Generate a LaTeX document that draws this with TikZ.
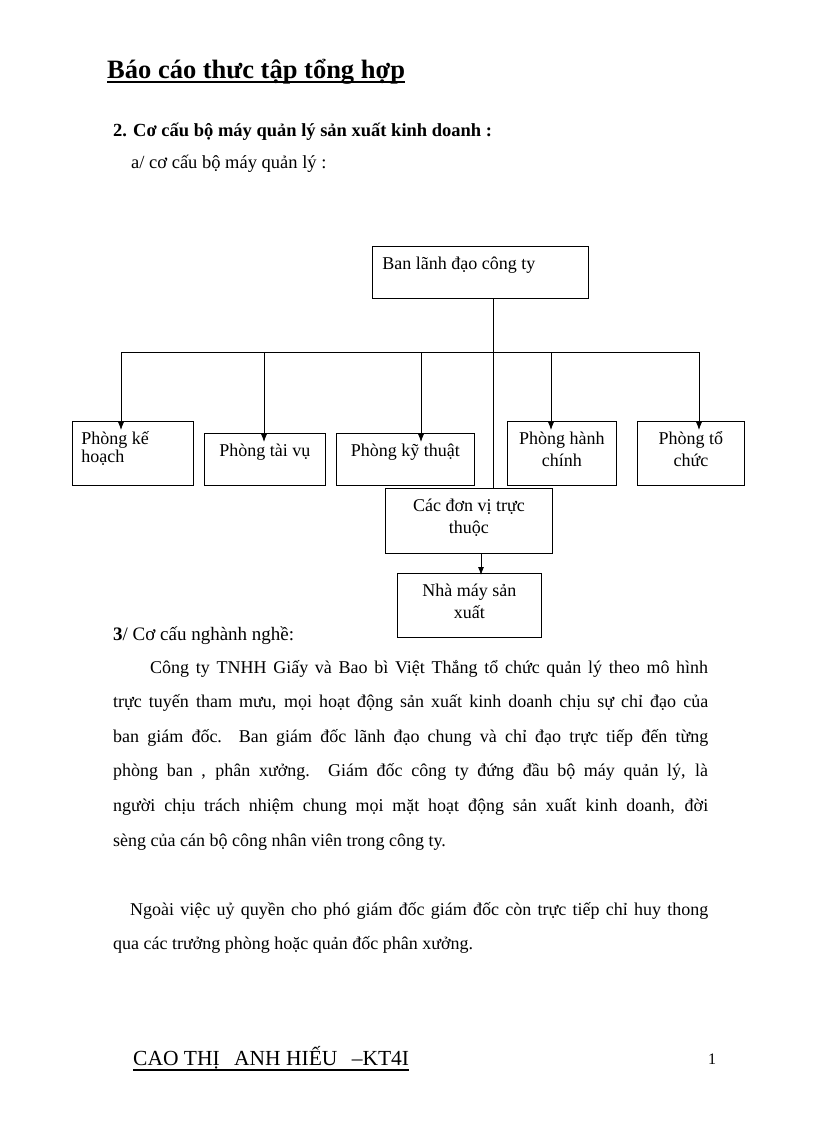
\documentclass[tikz,border=0pt]{standalone}
\usepackage{fontspec}
\setmainfont{Liberation Serif}
\usetikzlibrary{arrows.meta, positioning}
\newcommand{\ulinetext}[3]{\setbox0\hbox{#3}\rlap{\rule[-#1]{\wd0}{#2}}\box0}
\newcommand{\cellbox}[4]{\parbox[c][#2][t]{#1}{#3\rule{0pt}{23.5pt}#4}}

\begin{document}
\begin{tikzpicture}[
    x=1pt, y=-1pt,
    every node/.style={inner sep=0pt, font=\fontsize{18}{22}\selectfont},
    block/.style={rectangle, draw=black, line width=0.8pt, anchor=north west},
    line/.style={draw, -{Latex[length=8pt,width=6pt]}, line width=0.8pt, shorten >=-9pt},
    heading/.style={anchor=base west, font=\fontsize{18.5}{22}\selectfont}
]
    \useasboundingbox (0,0) rectangle (816,1123);

    % Header
    \node[anchor=base west, font=\fontsize{26.5}{30}\selectfont\bfseries] (title) at (107,79)
        {\ulinetext{4.5pt}{2pt}{Báo cáo thưc tập tổng hợp}};
    \node[heading, font=\fontsize{18.5}{22}\selectfont\bfseries] (sec) at (113,137)
        {2. Cơ cấu bộ máy quản lý sản xuất kinh doanh :};
    \node[heading] (subsec) at (131,169) {a/ cơ cấu bộ máy quản lý :};

    % Chart
    \node[block] (lead) at (372,246)
        {\cellbox{216pt}{52pt}{\raggedright\leftskip=10pt}{Ban lãnh đạo công ty}};
    \node[block, font=\fontsize{18}{18}\selectfont] (kehoach) at (72,421)
        {\cellbox{121pt}{64pt}{\raggedright\leftskip=9pt}{Phòng kế\\hoạch}};
    \node[block] (taivu) at (204,433) {\cellbox{121pt}{52pt}{\centering}{Phòng tài vụ}};
    \node[block] (kythuat) at (336,433) {\cellbox{138pt}{52pt}{\centering}{Phòng kỹ thuật}};
    \node[block] (hanhchinh) at (507,421) {\cellbox{109pt}{64pt}{\centering}{Phòng hành\\chính}};
    \node[block] (tochuc) at (637,421) {\cellbox{107pt}{64pt}{\centering}{Phòng tổ\\chức}};
    \node[block] (units) at (385,488) {\cellbox{167pt}{65pt}{\centering}{Các đơn vị trực\\thuộc}};
    \node[block] (factory) at (397,573) {\cellbox{144pt}{64pt}{\centering}{Nhà máy sản\\xuất}};

    % Bus
    \coordinate (d1) at (121,352);
    \coordinate (d2) at (264,352);
    \coordinate (d3) at (421,352);
    \coordinate (d4) at (551,352);
    \coordinate (d5) at (699,352);

    % Connections
    \draw[line width=0.8pt] (d1) -- (d5);
    \draw[line width=0.8pt] (lead.south -| 493,0) -- (units.north -| 493,0);
    \path[line] (d1) -- (d1 |- kehoach.north);
    \path[line] (d2) -- (d2 |- taivu.north);
    \path[line] (d3) -- (d3 |- kythuat.north);
    \path[line] (d4) -- (d4 |- hanhchinh.north);
    \path[line] (d5) -- (d5 |- tochuc.north);
    \path[line, shorten >=-2pt] (units.south -| 481,0) -- (factory.north -| 481,0);

    % Text
    \node[heading, font=\fontsize{19}{22}\selectfont] (sec3) at (113,640) {\textbf{3}/ Cơ cấu nghành nghề:};
    \node[anchor=base west, text width=595pt, align=justify, font=\fontsize{18}{34.6}\selectfont] (body) at (113,673)
        {\hspace*{37pt}Công ty TNHH Giấy và Bao bì Việt Thắng tổ chức quản lý theo mô hình\linebreak
        trực tuyến tham mưu, mọi hoạt động sản xuất kinh doanh chịu sự chỉ đạo của\linebreak
        ban giám đốc. Ban giám đốc lãnh đạo chung và chỉ đạo trực tiếp đến từng\linebreak
        phòng ban , phân xưởng. Giám đốc công ty đứng đầu bộ máy quản lý, là\linebreak
        người chịu trách nhiệm chung mọi mặt hoạt động sản xuất kinh doanh, đời\linebreak
        sèng của cán bộ công nhân viên trong công ty.\par\vspace{34.6pt}
        \hspace*{17pt}Ngoài việc uỷ quyền cho phó giám đốc giám đốc còn trực tiếp chỉ huy thong\linebreak
        qua các trưởng phòng hoặc quản đốc phân xưởng.};

    % Footer
    \node[anchor=base west, font=\fontsize{21.5}{25}\selectfont] (author) at (133,1065)
        {\ulinetext{5.5pt}{1.6pt}{CAO THỊ\hspace{9pt} ANH HIẾU\hspace{9pt} –KT4I}};
    \node[anchor=base west, font=\fontsize{16}{19}\selectfont] (page) at (708,1064) {1};
\end{tikzpicture}
\end{document}
